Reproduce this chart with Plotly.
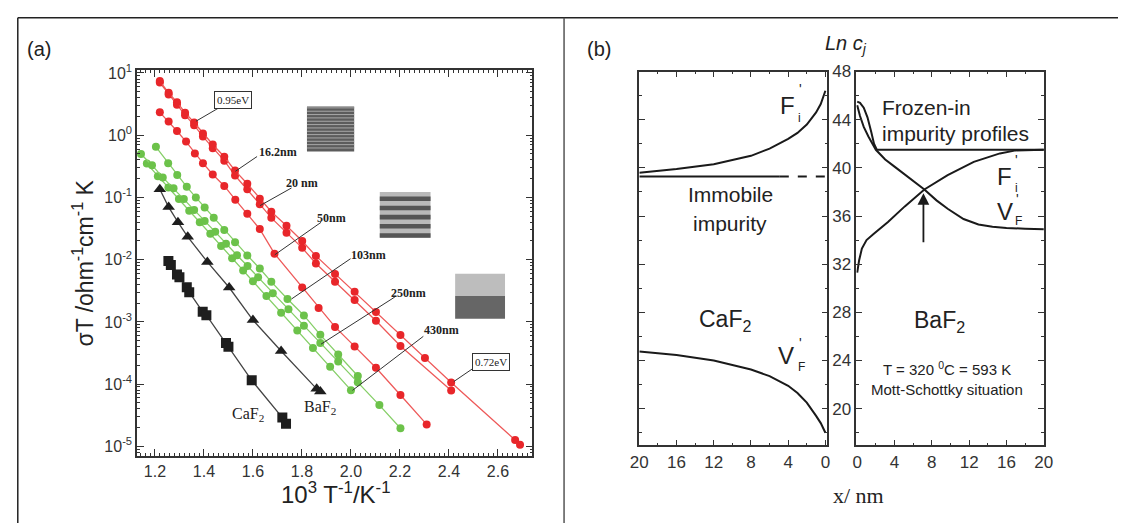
import plotly.graph_objects as go

# The page body adds an 8px margin, so the figure is drawn 8px in from the window corner.
OFF = 8
WF, HF = 1119, 515
def fx(p): return (p - OFF) / WF
def fy(p): return 1 - (p - OFF) / HF

# ---------------- Panel (a) data ----------------
red16_x = [1.22, 1.256, 1.29, 1.323, 1.36, 1.396, 1.436, 1.483, 1.527, 1.577, 1.628, 1.675, 1.737, 1.801, 1.857, 1.935, 2.015, 2.102, 2.202, 2.302, 2.409, 2.670, 2.690]
red16_y = [7.4, 4.8, 3.4, 2.3, 1.6, 1.07, 0.71, 0.45, 0.27, 0.166, 0.095, 0.059, 0.035, 0.020, 0.0115, 0.0059, 0.00305, 0.00144, 0.000615, 0.000264, 0.000106, 1.27e-5, 1.06e-5]
red20_x = [1.22, 1.256, 1.29, 1.323, 1.36, 1.396, 1.436, 1.483, 1.527, 1.577, 1.628, 1.675, 1.737, 1.801, 1.857, 1.935, 2.015, 2.102, 2.202, 2.409]
red20_y = [7.0, 4.5, 3.1, 2.1, 1.45, 0.95, 0.62, 0.39, 0.225, 0.135, 0.078, 0.047, 0.027, 0.0155, 0.0087, 0.00443, 0.00225, 0.00104, 0.00041, 7.9e-5]
red50_x = [1.22, 1.256, 1.29, 1.327, 1.363, 1.396, 1.436, 1.483, 1.528, 1.577, 1.628, 1.688, 1.801, 1.868, 1.935, 2.015, 2.102, 2.202, 2.309]
red50_y = [2.33, 1.66, 1.17, 0.79, 0.51, 0.356, 0.234, 0.153, 0.092, 0.0546, 0.031, 0.0125, 0.00357, 0.00168, 0.00083, 0.000404, 0.000183, 6.7e-5, 2.25e-5]

g103_x = [1.204, 1.254, 1.291, 1.330, 1.367, 1.403, 1.44, 1.483, 1.527, 1.577, 1.628, 1.675, 1.741, 1.808, 1.875, 1.948, 2.028]
g103_y = [0.65, 0.355, 0.23, 0.148, 0.10, 0.069, 0.047, 0.030, 0.019, 0.0117, 0.0072, 0.0044, 0.00234, 0.00127, 0.00062, 0.00030, 0.000135]
g250_x = [1.143, 1.188, 1.232, 1.276, 1.318, 1.36, 1.403, 1.446, 1.49, 1.535, 1.578, 1.621, 1.681, 1.745, 1.808, 1.875, 1.948, 2.028, 2.116, 2.202]
g250_y = [0.50, 0.33, 0.21, 0.14, 0.094, 0.063, 0.042, 0.028, 0.018, 0.0118, 0.0079, 0.0052, 0.0029, 0.0016, 0.00087, 0.00046, 0.00023, 0.000107, 4.6e-5, 1.95e-5]
g430_x = [1.167, 1.212, 1.255, 1.298, 1.34, 1.383, 1.426, 1.47, 1.515, 1.56, 1.60, 1.655, 1.715, 1.781, 1.845, 1.915, 2.0]
g430_y = [0.35, 0.22, 0.144, 0.094, 0.061, 0.040, 0.026, 0.0166, 0.0105, 0.0067, 0.0045, 0.0026, 0.0014, 0.00073, 0.00038, 0.00019, 8.0e-5]

baf2_x = [1.22, 1.256, 1.294, 1.334, 1.414, 1.503, 1.60, 1.715, 1.86, 1.875]
baf2_y = [0.135, 0.07, 0.040, 0.0233, 0.0092, 0.00357, 0.00107, 0.00034, 8.4e-5, 7.6e-5]
caf2_x = [1.255, 1.265, 1.29, 1.30, 1.33, 1.34, 1.395, 1.41, 1.49, 1.50, 1.595, 1.72, 1.735]
caf2_y = [0.0095, 0.0082, 0.0058, 0.0052, 0.0036, 0.0030, 0.00145, 0.00128, 0.00046, 0.00040, 0.000115, 2.9e-5, 2.3e-5]

xa_ticks = [1.2, 1.4, 1.6, 1.8, 2.0, 2.2, 2.4, 2.6]
ya_ticks = [1e-5, 1e-4, 1e-3, 1e-2, 1e-1, 1, 10]
ya_text = ["10<sup>-5</sup>", "10<sup>-4</sup>", "10<sup>-3</sup>", "10<sup>-2</sup>", "10<sup>-1</sup>", "10<sup>0</sup>", "10<sup>1</sup>"]

# ---------------- Panel (b) data ----------------
caf2_fi_x = [20, 16, 12, 8, 6, 4, 3, 2, 1, 0.5, 0]
caf2_fi_y = [39.6, 39.9, 40.3, 41.0, 41.6, 42.4, 42.9, 43.6, 44.6, 45.3, 46.4]
imm_solid_x = [20, 4.9]
imm_solid_y = [39.28, 39.28]
imm_dash_x = [4.9, 0]
imm_dash_y = [39.28, 39.28]
caf2_vf_x = [20, 16, 12, 8, 6, 4, 3, 2, 1, 0.5, 0]
caf2_vf_y = [24.75, 24.45, 24.0, 23.25, 22.7, 21.9, 21.3, 20.5, 19.4, 18.8, 18.0]

baf2_frozen_x = [0, 0.3, 0.7, 1.1, 1.5, 1.8, 2.1, 20]
baf2_frozen_y = [45.5, 45.4, 45.0, 44.2, 43.0, 42.0, 41.5, 41.5]
baf2_vf_x = [0, 0.3, 0.7, 1.2, 2, 3, 4, 5.6, 7.2, 8.5, 9.7, 11.4, 13, 14.5, 16, 18, 20]
baf2_vf_y = [45.2, 44.3, 43.4, 42.6, 41.5, 40.7, 40.1, 39.15, 38.2, 37.3, 36.6, 35.75, 35.3, 35.1, 35.0, 34.95, 34.9]
baf2_fi_x = [0, 0.2, 0.5, 1, 1.75, 3.3, 5.1, 7.2, 9.7, 12.5, 15.3, 17, 20]
baf2_fi_y = [31.3, 32.3, 33.3, 34.0, 34.5, 35.5, 36.8, 38.2, 39.4, 40.5, 41.2, 41.45, 41.5]

xb_left_ticks = [20, 16, 12, 8, 4, 0]
xb_right_ticks = [0, 4, 8, 12, 16, 20]
yb_ticks = [20, 24, 28, 32, 36, 40, 44, 48]

fig = go.Figure()

RED, RED_L = "#e8262a", "#ee5a5a"
GRN, GRN_L = "#6cc24a", "#86cf68"
BLK = "#1e1e1e"

def add_a(x, y, mc, lc, sym, size):
    fig.add_trace(go.Scatter(x=x, y=y, mode="lines+markers",
                             marker=dict(color=mc, size=size, symbol=sym, line=dict(width=0)),
                             line=dict(color=lc, width=1.3), xaxis="x", yaxis="y", showlegend=False))

add_a(caf2_x, caf2_y, BLK, "#444", "square", 10)
add_a(baf2_x, baf2_y, BLK, "#444", "triangle-up", 11)
add_a(g430_x, g430_y, GRN, GRN_L, "circle", 8)
add_a(g250_x, g250_y, GRN, GRN_L, "circle", 8)
add_a(g103_x, g103_y, GRN, GRN_L, "circle", 8)
add_a(red50_x, red50_y, RED, RED_L, "circle", 8)
add_a(red20_x, red20_y, RED, RED_L, "circle", 8)
add_a(red16_x, red16_y, RED, RED_L, "circle", 8)

def add_b(x, y, xa, ya, dash="solid"):
    fig.add_trace(go.Scatter(x=x, y=y, mode="lines", line=dict(color="#1a1a1a", width=2, dash=dash),
                             xaxis=xa, yaxis=ya, showlegend=False))

add_b(caf2_fi_x, caf2_fi_y, "x2", "y2")
add_b(imm_solid_x, imm_solid_y, "x2", "y2")
add_b(imm_dash_x, imm_dash_y, "x2", "y2", dash="dash")
add_b(caf2_vf_x, caf2_vf_y, "x2", "y2")
add_b(baf2_frozen_x, baf2_frozen_y, "x3", "y3")
add_b(baf2_vf_x, baf2_vf_y, "x3", "y3")
add_b(baf2_fi_x, baf2_fi_y, "x3", "y3")

TICKC = "#333"
FONT = "Arial, Liberation Sans, sans-serif"
minor_log = [m * 10 ** k for k in range(-6, 2) for m in range(2, 10)]

common = dict(showgrid=False, zeroline=False, showline=True, linecolor="#333", linewidth=1.5,
              mirror="ticks", ticks="inside", tickcolor="#333", tickwidth=1)

fig.update_layout(
    width=WF, height=HF, margin=dict(l=0, r=0, t=0, b=0),
    paper_bgcolor="white", plot_bgcolor="white", showlegend=False,
    font=dict(family=FONT, color="#222"),
    xaxis=dict(domain=[fx(130), fx(531.7)], anchor="y", range=[1.127, 2.74],
               tickvals=xa_ticks, ticktext=[f"{v:.1f}" for v in xa_ticks], ticklen=7,
               tickfont=dict(size=16, color=TICKC),
               minor=dict(dtick=0.02, ticklen=3, ticks="inside", tickcolor="#333"), **common),
    yaxis=dict(domain=[fy(455), fy(62)], anchor="x", type="log", range=[-5.158, 1.047],
               tickvals=ya_ticks, ticktext=ya_text, ticklen=7,
               tickfont=dict(size=16, color=TICKC),
               minor=dict(tickvals=minor_log, ticklen=3, ticks="inside", tickcolor="#333"), **common),
    xaxis2=dict(domain=[fx(640.5), fx(831.5)], anchor="y2", range=[20, -0.2],
                tickvals=xb_left_ticks, ticklen=6, tickfont=dict(size=17, color=TICKC),
                minor=dict(dtick=2, ticklen=3, ticks="inside", tickcolor="#333"), **common),
    yaxis2=dict(domain=[fy(444), fy(63.5)], anchor="x2", range=[16.95, 48],
                tickvals=yb_ticks, showticklabels=False, ticklen=6,
                minor=dict(dtick=2, ticklen=3, ticks="inside", tickcolor="#333"), **common),
    xaxis3=dict(domain=[fx(861), fx(1052)], anchor="y3", range=[-0.1, 20.05],
                tickvals=xb_right_ticks, ticklen=6, tickfont=dict(size=17, color=TICKC),
                minor=dict(dtick=2, ticklen=3, ticks="inside", tickcolor="#333"), **common),
    yaxis3=dict(domain=[fy(444), fy(63.5)], anchor="x3", range=[16.95, 48],
                tickvals=yb_ticks, ticklen=6, tickfont=dict(size=17, color=TICKC),
                minor=dict(dtick=2, ticklen=3, ticks="inside", tickcolor="#333"), **common),
)

shapes = []
annots = []

def line(x0, y0, x1, y1, color="#333", width=1, dash="solid"):
    shapes.append(dict(type="line", xref="paper", yref="paper", x0=fx(x0), y0=fy(y0), x1=fx(x1), y1=fy(y1),
                       line=dict(color=color, width=width, dash=dash)))

def rect(x0, y0, x1, y1, fill, lw=0, lc="#333"):
    shapes.append(dict(type="rect", xref="paper", yref="paper", x0=fx(x0), y0=fy(y1), x1=fx(x1), y1=fy(y0),
                       fillcolor=fill, line=dict(width=lw, color=lc), layer="above"))

def text(x, y, s, size, family=FONT, color="#222", angle=0, xanchor="center", yanchor="middle", **kw):
    annots.append(dict(xref="paper", yref="paper", x=fx(x), y=fy(y), text=s, showarrow=False,
                       font=dict(size=size, family=family, color=color), textangle=angle,
                       xanchor=xanchor, yanchor=yanchor, **kw))

# outer frame (as close to the window corner as the page allows)
line(8.8, 8.8, 1127, 8.8, color="#222", width=1.5)
line(8.8, 8.8, 8.8, 523, color="#222", width=1.5)
line(564, 8.8, 564, 523, color="#555", width=1.5)

# panel labels
text(30, 41, "(a)", 20)
text(600, 41, "(b)", 20)

# panel (a) titles
text(75, 258, "σT /ohm<sup>-1</sup>cm<sup>-1</sup> K", 23, angle=-90)
text(332, 492, "10<sup>3</sup> T<sup>-1</sup>/K<sup>-1</sup>", 24)

SERIF = "Liberation Serif, Times New Roman, serif"
text(228, 92.5, "0.95eV", 11, family=SERIF, bordercolor="#333", borderwidth=1, borderpad=2, bgcolor="white")
line(214, 100, 190, 114)
text(490, 359, "0.72eV", 11, family=SERIF, bordercolor="#333", borderwidth=1, borderpad=2, bgcolor="white")
line(471, 366, 452, 379)
text(273, 145, "<b>16.2nm</b>", 12, family=SERIF)
line(252, 150, 230, 165)
text(298, 177, "<b>20 nm</b>", 12, family=SERIF)
line(287, 182, 255, 200)
text(328, 213, "<b>50nm</b>", 12, family=SERIF)
line(317, 217, 270, 250)
text(365, 250, "<b>103nm</b>", 12, family=SERIF)
line(347, 254, 287, 295)
text(406, 289, "<b>250nm</b>", 12, family=SERIF)
line(392, 293, 317, 341)
text(439, 327, "<b>430nm</b>", 12, family=SERIF)
line(421, 333, 349, 388)
text(243, 413, "CaF<sub>2</sub>", 16, family=SERIF)
text(316, 405, "BaF<sub>2</sub>", 16, family=SERIF)

# insets (layer sketches)
rect(302.7, 99, 350.7, 145, "#5c5c5c")
yy = 100.5
while yy < 144:
    line(302.7, yy, 350.7, yy, color="#a8a8a8", width=1)
    yy += 3.4
rect(376.7, 186, 428.3, 232.7, "#b9b9b9")
band = (232.7 - 186) / 10
for i in range(5):
    y0 = 186 + band * (2 * i + 1)
    rect(376.7, y0, 428.3, y0 + band, "#555555")
rect(453.3, 269.3, 504, 292, "#bdbdbd")
rect(453.3, 292, 504, 315, "#666666")

# panel (b) texts
text(851, 36, "<i>Ln c<sub>j</sub></i>", 20)
text(863, 495, "x/ nm", 22, family=SERIF)
text(791, 98, "F", 24)
text(804, 81, "'", 14)
text(803, 111, "i", 12)
text(733, 189, "Immobile", 21)
text(733, 218, "impurity", 21)
text(728, 317, "CaF<sub>2</sub>", 23)
text(790, 353, "V", 24)
text(804, 340, "'", 14)
text(805, 364, "F", 12)
text(885, 100, "Frozen-in", 21, xanchor="left")
text(885, 127, "impurity profiles", 21, xanchor="left")
text(1012, 170, "F", 24)
text(1024, 154, "'", 14)
text(1024, 182, "i", 12)
text(1012, 206, "V", 24)
text(1025, 193, "'", 14)
text(1026, 216, "F", 12)
text(946, 318, "BaF<sub>2</sub>", 23)
text(953, 366, "T = 320 <sup>0</sup>C = 593 K", 15)
text(953, 387, "Mott-Schottky situation", 15)

# arrow at the crossing point
annots.append(dict(xref="x3", yref="y3", x=7.1, y=37.9, ax=7.1, ay=33.7, axref="x3", ayref="y3",
                   showarrow=True, arrowhead=2, arrowsize=1.3, arrowwidth=1.8, arrowcolor="#1a1a1a", text=""))

fig.update_layout(shapes=shapes, annotations=annots)
fig.write_html("out.html")
